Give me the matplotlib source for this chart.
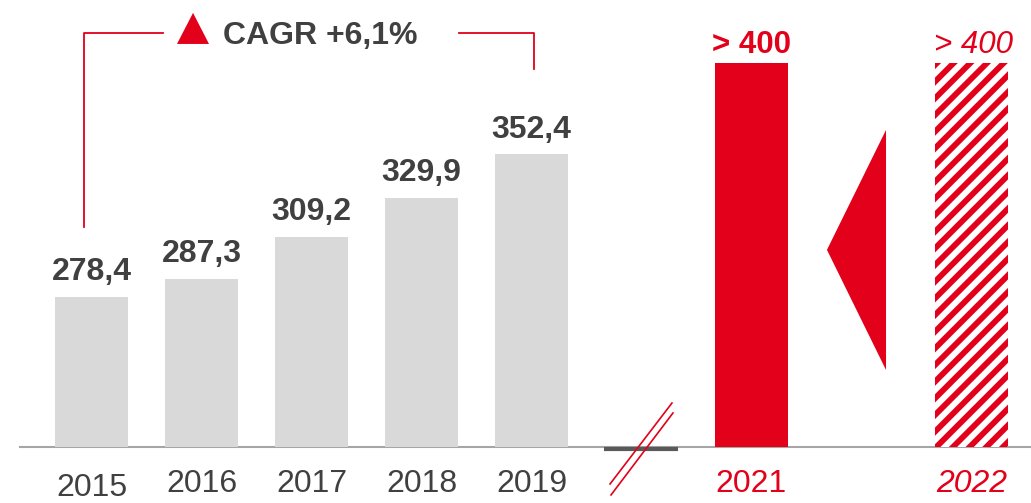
import numpy as np
import matplotlib
matplotlib.use("Agg")
import matplotlib.pyplot as plt

plt.rcParams['font.family'] = ['Liberation Sans', 'DejaVu Sans']
plt.rcParams['hatch.linewidth'] = 4.2

# data
years = ['2015', '2016', '2017', '2018', '2019']
values = [278.4, 287.3, 309.2, 329.9, 352.4]
value_labels = ['278,4', '287,3', '309,2', '329,9', '352,4']
year_y = [174.4, 176.5, 176.5, 176.5, 176.5]
goal_years = ['2021', '2022']
goal_values = [400, 400]
goal_labels = ['> 400', '> 400']
cagr_text = 'CAGR +6,1%'

RED = '#E2001A'
GREY = '#D9D9D9'
DARK = '#404040'

fig = plt.figure(figsize=(10.31, 5.03), dpi=100)
ax = fig.add_axes([0, 0, 1, 1])
ax.set_xlim(-0.832, 8.541)
ax.set_ylim(170.8, 432.9)
ax.axis('off')

base = 200
w = 0.665
pos = np.arange(len(years))
ax.bar(pos, np.array(values) - base, bottom=base, width=w, color=GREY, zorder=2)
for x, v, lab in zip(pos, values, value_labels):
    ax.annotate(lab, (x, v), xytext=(0, 12.2), textcoords='offset points',
                ha='center', va='baseline', fontsize=23, fontweight='bold', color=DARK)
for x, yl, yr in zip(pos, year_y, years):
    ax.text(x, yl, yr, ha='center', va='baseline', fontsize=23, color=DARK)

# goals
gpos = [6, 8]
ax.bar(gpos[0], goal_values[0] - base, bottom=base, width=w, color=RED, zorder=2)
ax.bar(gpos[1], goal_values[1] - base, bottom=base, width=w, facecolor='white',
       edgecolor=RED, hatch='//', linewidth=0, zorder=2)
ax.annotate(goal_labels[0], (gpos[0], goal_values[0]), xytext=(0, 7.3), textcoords='offset points',
            ha='center', va='baseline', fontsize=22.5, fontweight='bold', color=RED)
ax.annotate(goal_labels[1], (gpos[1] + 0.015, goal_values[1]), xytext=(0, 7.3), textcoords='offset points',
            ha='center', va='baseline', fontsize=22.5, style='italic', color=RED)
ax.text(gpos[0], 176.5, goal_years[0], ha='center', va='baseline', fontsize=23, color=RED)
ax.text(gpos[1], 176.5, goal_years[1], ha='center', va='baseline', fontsize=23,
        style='italic', color=RED)

# baseline with break
ax.plot([-0.65, 8.6], [base, base], color='#A6A6A6', lw=1.5, zorder=1)
ax.plot([4.659, 5.332], [198.96, 198.96], color='#595959', lw=3, zorder=3, solid_capstyle='butt')
ax.plot([4.714, 5.277], [180.7, 222.9], color=RED, lw=1.2, zorder=4)
ax.plot([4.723, 5.286], [175.0, 217.7], color=RED, lw=1.2, zorder=4)

# arrow triangle between bars
ax.fill([6.686, 7.223, 7.223], [302.7, 365.2, 240.1], color=RED, lw=0, zorder=3)

# CAGR bracket
ax.plot([-0.068, -0.068, 0.65], [314.6, 415.7, 415.7], color=RED, lw=1.3)
ax.plot([3.341, 4.023, 4.023], [415.7, 415.7, 397.0], color=RED, lw=1.3)
ax.fill([0.777, 1.068, 0.923], [410.0, 410.0, 426.2], color=RED, lw=0)
ax.text(1.195, 410.0, cagr_text, ha='left', va='baseline', fontsize=23,
        fontweight='bold', color=DARK)

fig.savefig('out.png', dpi=100)
